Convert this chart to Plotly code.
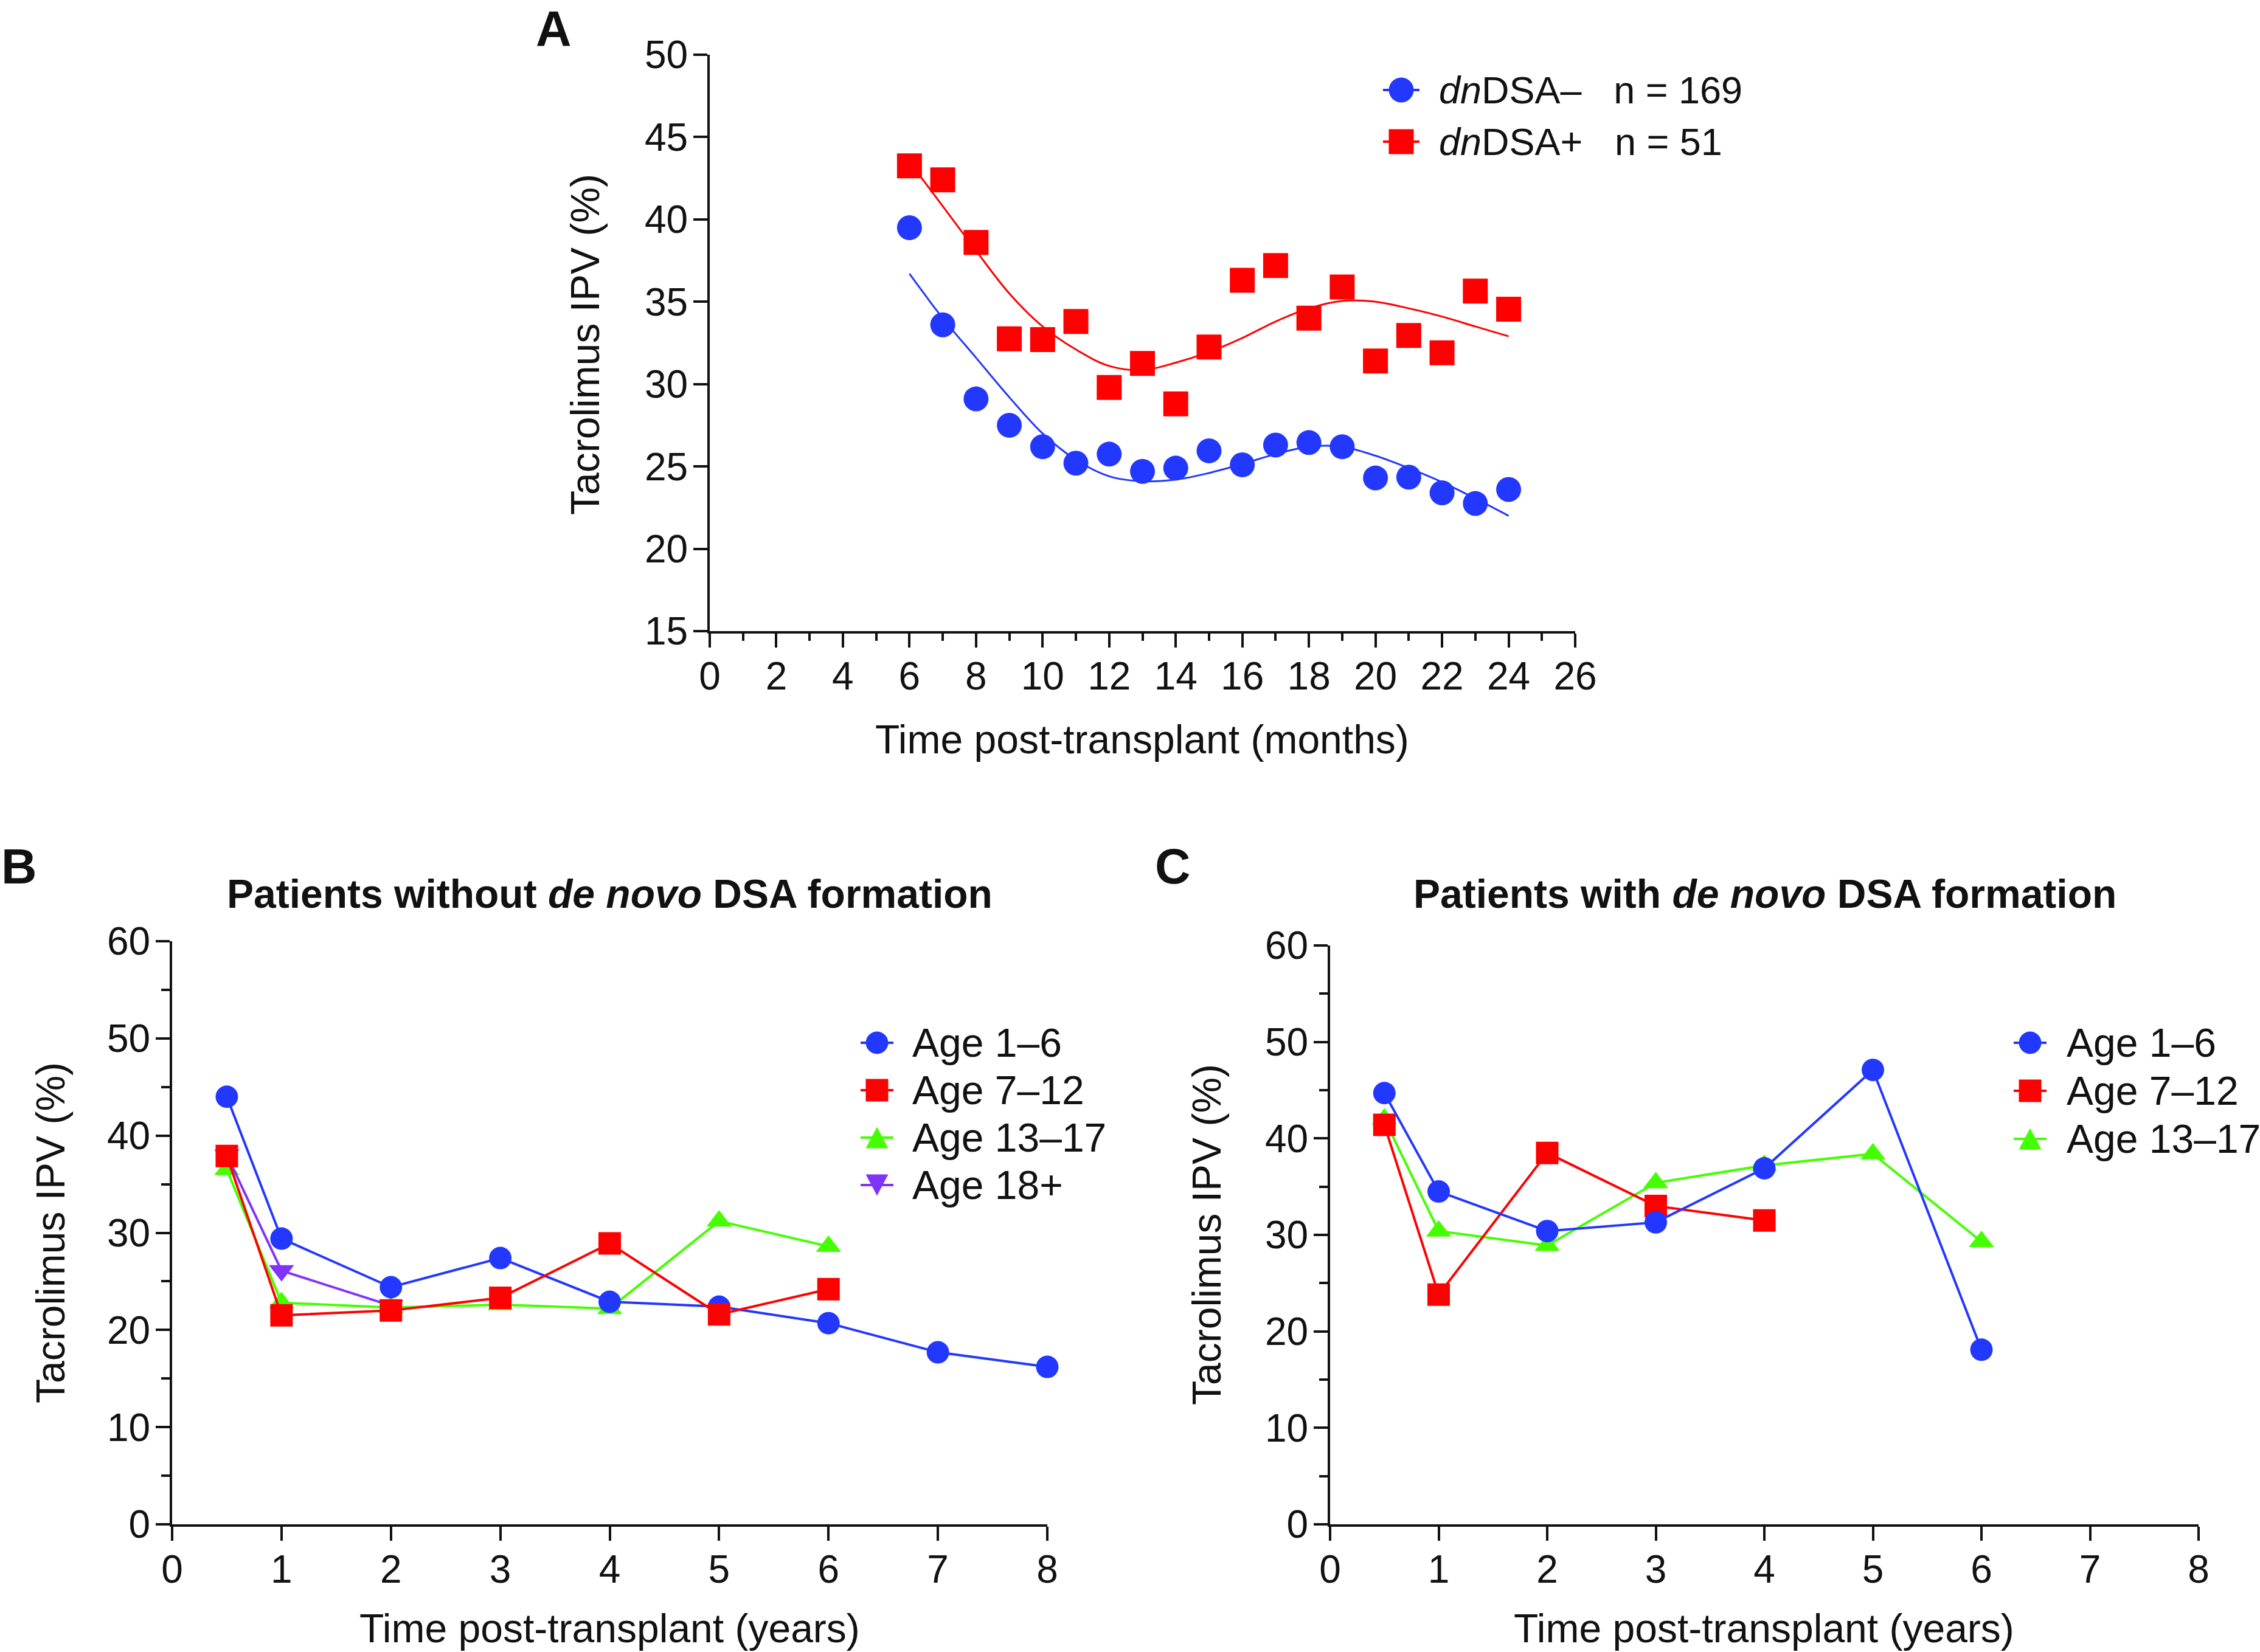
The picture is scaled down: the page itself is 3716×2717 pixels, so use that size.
import plotly.graph_objects as go

# ---------------- data ----------------
months = list(range(6, 25))
ipv_dsa_neg = [39.5, 33.6, 29.1, 27.5, 26.2, 25.2, 25.75, 24.7, 24.9, 25.95,
               25.1, 26.3, 26.45, 26.2, 24.3, 24.35, 23.4, 22.75, 23.6]
ipv_dsa_pos = [43.25, 42.4, 38.6, 32.75, 32.7, 33.8, 29.8, 31.25, 28.8, 32.25,
               36.3, 37.2, 34.0, 35.9, 31.4, 32.95, 31.9, 35.65, 34.55]
fit_dsa_neg = [36.7, 34.0, 31.6, 29.2, 27.0, 25.4, 24.4, 24.1, 24.2, 24.6,
               25.15, 25.75, 26.2, 26.2, 25.65, 24.9, 24.05, 23.05, 22.0]
fit_dsa_pos = [43.5, 40.8, 38.1, 35.5, 33.5, 32.1, 31.1, 30.85, 31.3, 31.95,
               32.8, 33.8, 34.6, 35.05, 35.0, 34.6, 34.1, 33.5, 32.9]

years = [0.5, 1, 2, 3, 4, 5, 6, 7, 8]
b_age_1_6 = [44.0, 29.4, 24.4, 27.4, 22.9, 22.4, 20.7, 17.7, 16.2]
b_age_7_12 = [37.9, 21.5, 22.0, 23.3, 28.9, 21.6, 24.2]
b_age_13_17 = [36.5, 22.8, 22.3, 22.6, 22.2, 31.2, 28.6]
b_age_18 = [38.0, 26.1, 22.5]

c_age_1_6 = [44.7, 34.5, 30.4, 31.3, 36.9, 47.1, 18.1]
c_age_7_12 = [41.4, 23.8, 38.5, 33.0, 31.5]
c_age_13_17 = [42.0, 30.4, 28.9, 35.4, 37.2, 38.4, 29.3]

legend_a = ["<i>dn</i>DSA\u2013\u00a0\u00a0 n = 169", "<i>dn</i>DSA+\u00a0\u00a0 n = 51"]
age_groups = ["Age 1\u20136", "Age 7\u201312", "Age 13\u201317", "Age 18+"]

# ---------------- style ----------------
W, H = 3716, 2717
FONT = "Liberation Sans, Arial, Helvetica, sans-serif"
BLUE, RED, GREEN, PURPLE = "#2338ff", "#ff0000", "#44ff00", "#8033ff"
INK = "#111111"


def px(x):
    return x / W


def py(y):
    return 1 - y / H


fig = go.Figure()

# Panel A
fig.add_trace(go.Scatter(x=months, y=fit_dsa_neg, mode="lines", line=dict(color=BLUE, width=3, shape="spline"),
                         xaxis="x", yaxis="y", showlegend=False, cliponaxis=False))
fig.add_trace(go.Scatter(x=months, y=fit_dsa_pos, mode="lines", line=dict(color=RED, width=3, shape="spline"),
                         xaxis="x", yaxis="y", showlegend=False, cliponaxis=False))
fig.add_trace(go.Scatter(x=months, y=ipv_dsa_neg, mode="markers", marker=dict(color=BLUE, size=41, symbol="circle"),
                         xaxis="x", yaxis="y", showlegend=False, cliponaxis=False))
fig.add_trace(go.Scatter(x=months, y=ipv_dsa_pos, mode="markers", marker=dict(color=RED, size=41, symbol="square"),
                         xaxis="x", yaxis="y", showlegend=False, cliponaxis=False))

MS = 37
TRI = 36


def series(xs, ys, color, symbol, size, xa, ya):
    fig.add_trace(go.Scatter(x=xs[:len(ys)], y=ys, mode="lines+markers",
                             line=dict(color=color, width=4),
                             marker=dict(color=color, size=size, symbol=symbol),
                             xaxis=xa, yaxis=ya, showlegend=False, cliponaxis=False))


# Panel B
series(years, b_age_13_17, GREEN, "triangle-up", TRI, "x2", "y2")
series(years, b_age_18, PURPLE, "triangle-down", TRI, "x2", "y2")
series(years, b_age_1_6, BLUE, "circle", MS, "x2", "y2")
series(years, b_age_7_12, RED, "square", MS, "x2", "y2")

# Panel C
series(years, c_age_13_17, GREEN, "triangle-up", TRI, "x3", "y3")
series(years, c_age_7_12, RED, "square", MS, "x3", "y3")
series(years, c_age_1_6, BLUE, "circle", MS, "x3", "y3")

axis_common = dict(showline=True, linecolor=INK, linewidth=4, ticks="outside", tickcolor=INK,
                   tickwidth=4, ticklen=23, showgrid=False, zeroline=False, automargin=False,
                   tickfont=dict(family=FONT, size=64, color=INK))
xcommon = dict(axis_common, ticklabelstandoff=-8)
ycommon = dict(axis_common, ticklabelstandoff=-4)

layout = dict(
    width=W, height=H, margin=dict(l=0, r=0, t=0, b=0, autoexpand=False),
    paper_bgcolor="white", plot_bgcolor="white", showlegend=False,
    font=dict(family=FONT, color=INK),
    xaxis=dict(domain=[px(1167), px(2590)], anchor="y", range=[0, 26], tickmode="linear", tick0=0, dtick=2,
               minor=dict(dtick=1, tick0=0, ticks="outside", ticklen=12, tickwidth=4, tickcolor=INK),
               **xcommon),
    yaxis=dict(domain=[py(1038), py(90)], anchor="x", range=[15, 50], tickmode="linear", tick0=15, dtick=5,
               **ycommon),
    xaxis2=dict(domain=[px(283), px(1722)], anchor="y2", range=[0, 8], tickmode="linear", tick0=0, dtick=1,
                **xcommon),
    yaxis2=dict(domain=[py(2507), py(1548)], anchor="x2", range=[0, 60], tickmode="linear", tick0=0, dtick=10,
                minor=dict(dtick=5, tick0=0, ticks="outside", ticklen=14, tickwidth=4, tickcolor=INK),
                **ycommon),
    xaxis3=dict(domain=[px(2187), px(3615)], anchor="y3", range=[0, 8], tickmode="linear", tick0=0, dtick=1,
                **xcommon),
    yaxis3=dict(domain=[py(2507), py(1555)], anchor="x3", range=[0, 60], tickmode="linear", tick0=0, dtick=10,
                minor=dict(dtick=5, tick0=0, ticks="outside", ticklen=14, tickwidth=4, tickcolor=INK),
                **ycommon),
)
fig.update_layout(**layout)

annotations = []
shapes = []


def text(x, y, s, size, bold=False, angle=0, xanchor="center", yanchor="middle"):
    annotations.append(dict(xref="paper", yref="paper", x=px(x), y=py(y), text=("<b>%s</b>" % s) if bold else s,
                            showarrow=False, xanchor=xanchor, yanchor=yanchor, textangle=angle,
                            font=dict(family=FONT, size=size, color=INK)))


# panel letters
text(910, 0, "A", 81, bold=True, yanchor="top")
text(32, 1425, "B", 81, bold=True)
text(1928, 1425, "C", 81, bold=True)

# titles
text(1002, 1470, "Patients without <i>de novo</i> DSA formation", 66, bold=True)
text(2902, 1470, "Patients with <i>de novo</i> DSA formation", 66, bold=True)

# axis titles
text(1878, 1216, "Time post-transplant (months)", 66)
text(1002, 2678, "Time post-transplant (years)", 66)
text(2900, 2678, "Time post-transplant (years)", 66)
text(962, 567, "Tacrolimus IPV (%)", 66, angle=-90)
text(83, 2028, "Tacrolimus IPV (%)", 66, angle=-90)
text(1984, 2030, "Tacrolimus IPV (%)", 66, angle=-90)


# legend glyphs (layout decoration)
def glyph(cx, cy, symbol, color, size, half_line):
    shapes.append(dict(type="line", xref="paper", yref="paper", x0=px(cx - half_line), x1=px(cx + half_line),
                       y0=py(cy), y1=py(cy), line=dict(color=color, width=4)))
    r = size / 2
    if symbol == "circle":
        shapes.append(dict(type="circle", xref="paper", yref="paper", x0=px(cx - r), x1=px(cx + r),
                           y0=py(cy + r), y1=py(cy - r), fillcolor=color, line=dict(width=0)))
    elif symbol == "square":
        shapes.append(dict(type="rect", xref="paper", yref="paper", x0=px(cx - r), x1=px(cx + r),
                           y0=py(cy + r), y1=py(cy - r), fillcolor=color, line=dict(width=0)))
    else:
        if symbol == "triangle-up":
            pts = [(cx - r, cy + r * 0.95), (cx + r, cy + r * 0.95), (cx, cy - r * 0.95)]
        else:
            pts = [(cx - r, cy - r * 0.95), (cx + r, cy - r * 0.95), (cx, cy + r * 0.95)]
        path = "M %f,%f L %f,%f L %f,%f Z" % tuple(v for p in pts for v in (px(p[0]), py(p[1])))
        shapes.append(dict(type="path", xref="paper", yref="paper", path=path, fillcolor=color, line=dict(width=0)))


# legend A
for i, (lab, col, sym) in enumerate(zip(legend_a, [BLUE, RED], ["circle", "square"])):
    yy = 148 + i * 85
    glyph(2304, yy, sym, col, 41, 30)
    text(2364, yy, lab, 63, xanchor="left")

# legend B
for i, (lab, col, sym) in enumerate(zip(age_groups, [BLUE, RED, GREEN, PURPLE],
                                         ["circle", "square", "triangle-up", "triangle-down"])):
    yy = 1715 + i * 78
    glyph(1442, yy, sym, col, 37, 27)
    text(1498, yy, lab, 66, xanchor="left")

# legend C
for i, (lab, col, sym) in enumerate(zip(age_groups[:3], [BLUE, RED, GREEN],
                                         ["circle", "square", "triangle-up"])):
    yy = 1715 + i * 79
    glyph(3338, yy, sym, col, 37, 27)
    text(3396, yy, lab, 66, xanchor="left")

fig.update_layout(annotations=annotations, shapes=shapes)

fig.write_html("out.html", config={"responsive": False, "displayModeBar": False},
               post_script="document.body.style.margin='0px';")
